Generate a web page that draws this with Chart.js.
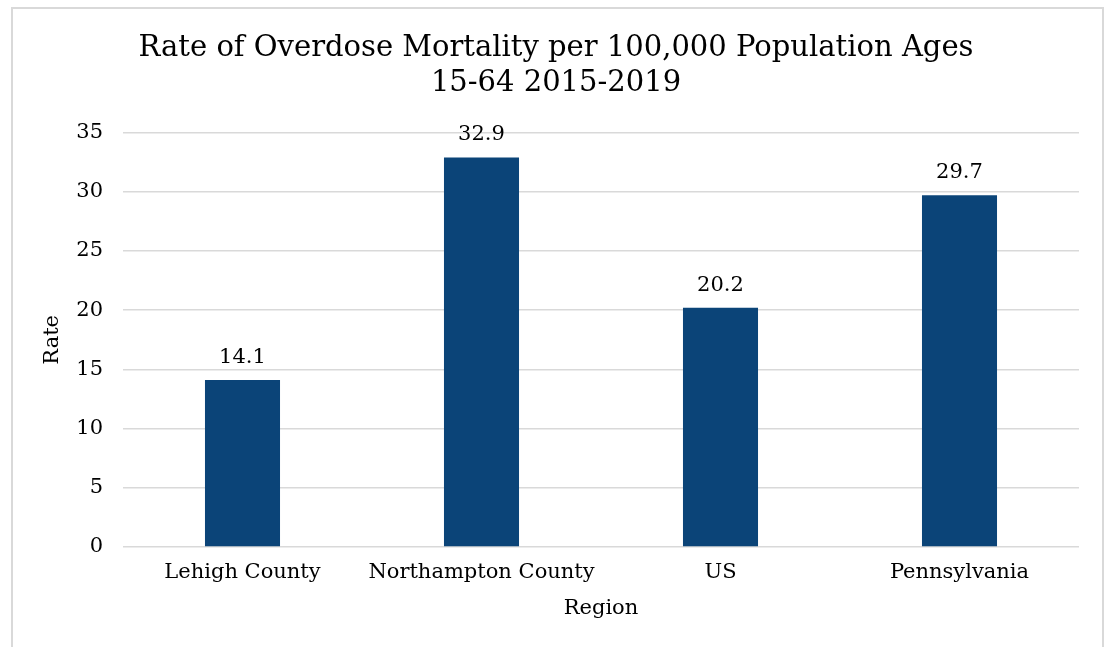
<!DOCTYPE html>
<html>
<head>
<meta charset="utf-8">
<script src="https://cdn.jsdelivr.net/npm/chart.js@4.4.0/dist/chart.umd.min.js"></script>
<style>
  body { margin: 0; background: #fff; }
  #wrap { position: relative; width: 1110px; height: 647px; }
  #frame { position: absolute; left: 11px; top: 7px; width: 1093px; height: 645px; border: 2px solid #d9d9d9; box-sizing: border-box; pointer-events: none; }
</style>
</head>
<body>
<div id="wrap">
  <canvas id="myChart" width="1110" height="647"></canvas>
  <div id="frame"></div>
</div>
<script>
let regions = ["Lehigh County", "Northampton County", "US", "Pennsylvania"];
let rates = [14.1, 32.9, 20.2, 29.7];
let yTicks = [0, 5, 10, 15, 20, 25, 30, 35];

const serif = "'DejaVu Serif', 'Liberation Serif', serif";

// value labels above each bar
const valueLabels = {
  id: "valueLabels",
  afterDatasetsDraw(chart) {
    let ctx = chart.ctx;
    let meta = chart.getDatasetMeta(0);
    ctx.save();
    ctx.font = "21px " + serif;
    ctx.fillStyle = "#000";
    ctx.textAlign = "center";
    ctx.textBaseline = "alphabetic";
    meta.data.forEach((bar, i) => {
      ctx.fillText(rates[i].toFixed(1), bar.x, bar.y - 17);
    });
    ctx.restore();
  },
};

const ctx = document.getElementById("myChart");
const myChart = new Chart(ctx, {
  type: "bar",
  data: {
    labels: regions,
    datasets: [
      {
        label: "Rate",
        data: rates,
        backgroundColor: "#0b4478",
        barPercentage: 0.314,
        categoryPercentage: 1,
      },
    ],
  },
  options: {
    responsive: false,
    animation: false,
    layout: { padding: { left: 33, right: 31, top: 0, bottom: 0 } },
    plugins: {
      legend: { display: false },
      tooltip: { enabled: false },
      title: {
        display: true,
        text: ["Rate of Overdose Mortality per 100,000 Population Ages", "15-64 2015-2019"],
        color: "#000",
        font: { family: serif, size: 29, weight: "normal", lineHeight: 1.2 },
        padding: { top: 31, bottom: 32 },
      },
    },
    scales: {
      x: {
        afterFit(axis) {
          axis.height = 100;
        },
        grid: { display: false, drawTicks: false },
        border: { display: false },
        ticks: { color: "#000", font: { family: serif, size: 21 }, padding: 13 },
        title: { display: true, text: "Region", color: "#000", font: { family: serif, size: 21 }, padding: { top: 0, bottom: 26 } },
      },
      y: {
        min: 0,
        max: 35,
        afterBuildTicks(axis) {
          axis.ticks = yTicks.map((v) => ({ value: v }));
        },
        afterFit(axis) {
          axis.width = 90;
        },
        grid: { color: "#d9d9d9", lineWidth: 1.5, drawTicks: false },
        border: { display: false },
        ticks: { color: "#000", font: { family: serif, size: 21 }, padding: 20 },
        title: { display: true, text: "Rate", color: "#000", font: { family: serif, size: 21 }, padding: { top: 7, bottom: 0 } },
      },
    },
  },
  plugins: [valueLabels],
});
</script>
</body>
</html>
